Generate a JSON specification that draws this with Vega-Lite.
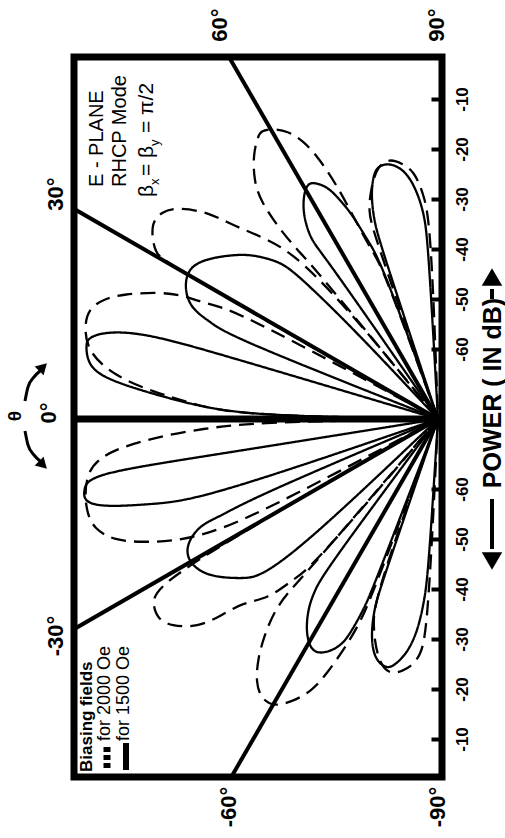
{
  "$schema": "https://vega.github.io/schema/vega-lite/v6.json",
  "width": 368,
  "height": 720,
  "autosize": {"type": "none"},
  "padding": {"left": 74, "top": 57, "right": 63, "bottom": 61},
  "background": "white",
  "config": {"view": {"stroke": "black", "strokeWidth": 7}, "text": {"font": "Liberation Sans", "color": "black"}},
  "resolve": {"axis": {"x": "independent", "y": "independent"}},
  "datasets": {
    "lobes": [
      {"lobe": "U1s", "s": "1500 Oe", "t": [0, 1.0, 2.1, 4.3, 6.8, 9, 12, 13, 14.6, 16.4, 16.6, 17], "d": [-74, -44, -30.4, -20.2, -6.6, -3, -2, -2.2, -4.8, -12.6, -30, -74]},
      {"lobe": "U1d", "s": "2000 Oe", "t": [0, 1.0, 2.1, 3.9, 5.4, 7.6, 10.8, 14.3, 17.4, 19.8, 21.7, 24.4, 25.8, 26.2, 27.2, 28, 28.5, 29], "d": [-74, -44, -30, -23.8, -17, -8.6, -2.8, -1, -0.6, -3, -6.4, -12.6, -17, -20.6, -24.6, -30, -50, -74]},
      {"lobe": "U2s", "s": "1500 Oe", "t": [21, 21.6, 23.1, 24, 27.1, 31, 34.4, 38.4, 41.4, 44.6, 45.8, 47, 47.5], "d": [-74, -28.8, -24.6, -20, -17, -15.6, -17.4, -21.2, -24.2, -29, -32.8, -50, -74]},
      {"lobe": "U2d", "s": "2000 Oe", "t": [29.5, 29.8, 30.2, 30.2, 31.3, 34.2, 36.8, 39.2, 42, 43.4, 46.6, 49.4, 51, 51.5], "d": [-74, -14.8, -11.6, -9.2, -7.4, -4.6, -4.8, -7, -12.2, -17.8, -24.4, -31.8, -50, -74]},
      {"lobe": "U3d", "s": "2000 Oe", "t": [50.5, 50.8, 50.2, 50.2, 50.9, 52.3, 55.1, 57.5, 58.4, 60.1, 62.5, 64.2, 65.4, 66.7, 67.7, 68.8, 70, 71], "d": [-74, -34.8, -30.2, -24, -17.8, -13.8, -9.4, -7, -6.4, -7, -9, -12.4, -16.4, -23.4, -33.4, -38.6, -42.4, -74]},
      {"lobe": "U3s", "s": "1500 Oe", "t": [55, 55.2, 54.7, 55.3, 57, 59.2, 61, 62.4, 64.6, 66, 67.4, 68.5, 70.2, 71], "d": [-74, -35.6, -31.2, -28.2, -24.4, -21.6, -20.2, -20.6, -22.6, -26.2, -30.2, -35.8, -40.4, -74]},
      {"lobe": "U4s", "s": "1500 Oe", "t": [71.5, 71.7, 72.1, 73.4, 75.5, 77.4, 80.2, 83, 84.9, 86.1, 86.8, 88], "d": [-74, -37.8, -32.4, -27, -22.8, -21.8, -22.2, -24.6, -28.8, -33, -38.4, -74]},
      {"lobe": "U4d", "s": "2000 Oe", "t": [70.5, 70.9, 71.4, 73.9, 76.5, 79.5, 82, 84.5, 86.4, 87.9, 89], "d": [-74, -34.8, -30.2, -25.8, -22, -21, -22.4, -24.2, -29, -35.6, -74]},
      {"lobe": "L1s", "s": "1500 Oe", "t": [-9, -9.1, -9, -11.2, -13.2, -14.8, -16.7, -18.9, -20.5], "d": [-74, -26, -3.4, -1.8, -1.2, -5, -14.8, -24.6, -74]},
      {"lobe": "L1d", "s": "2000 Oe", "t": [0, -1.0, -1.7, -5.1, -9.6, -14.8, -17.7, -20.6, -22.7, -24.6, -26.5, -28, -28.5], "d": [-74, -44, -28, -6.4, -2.2, -1.2, -1.8, -4.8, -10.2, -15.2, -22, -34, -74]},
      {"lobe": "L2s", "s": "1500 Oe", "t": [-22.5, -23, -24.1, -24, -27.1, -30.8, -34.8, -39.5, -41.6, -43.5, -44], "d": [-74, -34, -26.4, -21.4, -17, -16.6, -18.6, -23.8, -26.6, -38, -74]},
      {"lobe": "L2d", "s": "2000 Oe", "t": [-29.5, -30, -30.9, -33.3, -35.5, -37.8, -40.9, -42.2, -43.3, -46.6, -48, -49.8, -51], "d": [-74, -24, -7.8, -5.8, -5.2, -6.4, -10.4, -15.4, -20.6, -24.4, -31, -35.6, -74]},
      {"lobe": "L3d", "s": "2000 Oe", "t": [-49.5, -49.5, -49.1, -49.6, -51.3, -53.1, -55.3, -57.7, -60.3, -62.5, -65.1, -66.5, -67.8, -68.9, -69.6, -70.5], "d": [-74, -32.8, -28.2, -23.4, -18.4, -14, -10, -7.8, -7.8, -10.2, -13.8, -18.8, -24.4, -29.6, -35.6, -74]},
      {"lobe": "L3s", "s": "1500 Oe", "t": [-53, -53.3, -54.4, -55.6, -58.2, -61.4, -64.1, -66.9, -67.8, -68.7, -69, -70], "d": [-74, -35.8, -31.4, -28, -23.8, -21, -21.8, -24.6, -28, -33.2, -38.2, -74]},
      {"lobe": "L4s", "s": "1500 Oe", "t": [-71, -71.1, -71.4, -72.8, -75.1, -78.2, -79.9, -82.7, -84.6, -85.6, -86.4, -88], "d": [-74, -38.8, -34, -28.6, -24.4, -23, -23.8, -27, -31.8, -37.2, -42.6, -74]},
      {"lobe": "L4d", "s": "2000 Oe", "t": [-70, -70.4, -72.6, -75.5, -79, -83.2, -85.9, -87.2, -89], "d": [-74, -36, -30.6, -25, -21.6, -23.6, -26.4, -32.6, -74]}
    ]
  },
  "layer": [
    {
      "data": {"name": "lobes"},
      "transform": [
        {"flatten": ["t", "d"]},
        {"window": [{"op": "row_number", "as": "i"}]},
        {"calculate": "max(0, datum.d + 74)", "as": "r"},
        {"calculate": "datum.r*cos(datum.t*PI/180)", "as": "u"},
        {"calculate": "datum.r*sin(datum.t*PI/180)", "as": "v"}
      ],
      "mark": {"type": "line", "interpolate": "basis", "strokeWidth": 2.3, "color": "black"},
      "encoding": {
        "x": {"field": "u", "type": "quantitative", "scale": {"domain": [-0.8, 72.8], "reverse": true, "nice": false, "zero": false}, "axis": null},
        "y": {"field": "v", "type": "quantitative", "scale": {"domain": [-71.6, 72.4], "nice": false, "zero": false},
          "axis": {"orient": "right", "values": [-64, -54, -44, -34, -24, -14, 14, 24, 34, 44, 54, 64], "labelExpr": "(abs(datum.value) - 74) + ''", "domain": false, "grid": false, "title": null, "ticks": true, "tickSize": -11, "tickWidth": 4, "tickColor": "black", "labelAngle": 270, "labelAlign": "center", "labelBaseline": "middle", "labelPadding": 31, "labelFont": "Liberation Sans", "labelFontSize": 17, "labelFontWeight": "bold", "labelColor": "black", "zindex": 1}},
        "detail": {"field": "lobe"},
        "order": {"field": "i"},
        "strokeDash": {"field": "s", "type": "nominal", "scale": {"domain": ["2000 Oe", "1500 Oe"], "range": [[15, 8], [1, 0]]}, "legend": null}
      }
    },
    {
      "data": {"values": [{"deg": 30}, {"deg": 60}, {"deg": -30}, {"deg": -60}]},
      "transform": [
        {"calculate": "0", "as": "o"},
        {"calculate": "110*cos(datum.deg*PI/180)", "as": "ex"},
        {"calculate": "110*sin(datum.deg*PI/180)", "as": "ey"}
      ],
      "mark": {"type": "rule", "clip": true, "strokeWidth": 4, "color": "black"},
      "encoding": {
        "x": {"field": "o", "type": "quantitative", "axis": null},
        "y": {"field": "o", "type": "quantitative", "axis": null},
        "x2": {"field": "ex"},
        "y2": {"field": "ey"}
      }
    },
    {
      "data": {"values": [{"deg": 0}]},
      "transform": [
        {"calculate": "0", "as": "o"},
        {"calculate": "110", "as": "ex"}
      ],
      "mark": {"type": "rule", "clip": true, "strokeWidth": 7, "color": "black"},
      "encoding": {
        "x": {"field": "o", "type": "quantitative", "axis": null},
        "y": {"field": "o", "type": "quantitative", "axis": null},
        "x2": {"field": "ex"}
      }
    },
    {
      "data": {"values": [{"g": "a", "u": 82.6, "v": 3.6}, {"g": "a", "u": 82.0, "v": 6.4}, {"g": "a", "u": 80.8, "v": 8.4}, {"g": "a", "u": 79.6, "v": 9.6}, {"g": "b", "u": 82.6, "v": -2.4}, {"g": "b", "u": 82.0, "v": -5.2}, {"g": "b", "u": 80.8, "v": -7.2}, {"g": "b", "u": 79.6, "v": -8.4}]},
      "mark": {"type": "line", "interpolate": "monotone", "strokeWidth": 3, "color": "black"},
      "encoding": {
        "x": {"field": "u", "type": "quantitative", "axis": null},
        "y": {"field": "v", "type": "quantitative", "axis": null},
        "detail": {"field": "g"},
        "order": {"field": "v"}
      }
    },
    {
      "data": {"values": [{}]},
      "mark": {"type": "point", "shape": "triangle-up", "filled": true, "size": 160, "angle": 45, "color": "black", "opacity": 1},
      "encoding": {"x": {"datum": 79.0, "type": "quantitative", "axis": null}, "y": {"datum": 10.4, "type": "quantitative", "axis": null}}
    },
    {
      "data": {"values": [{}]},
      "mark": {"type": "point", "shape": "triangle-down", "filled": true, "size": 160, "angle": -45, "color": "black", "opacity": 1},
      "encoding": {"x": {"datum": 79.0, "type": "quantitative", "axis": null}, "y": {"datum": -9.2, "type": "quantitative", "axis": null}}
    },
    {
      "data": {"values": [{}]},
      "mark": {"type": "point", "shape": "triangle-up", "filled": true, "size": 420, "color": "black", "opacity": 1},
      "encoding": {"x": {"datum": -10.8, "type": "quantitative", "axis": null}, "y": {"datum": 28.4, "type": "quantitative", "axis": null}}
    },
    {
      "data": {"values": [{}]},
      "mark": {"type": "point", "shape": "triangle-down", "filled": true, "size": 420, "color": "black", "opacity": 1},
      "encoding": {"x": {"datum": -10.8, "type": "quantitative", "axis": null}, "y": {"datum": -28.4, "type": "quantitative", "axis": null}}
    },
    {
      "data": {"values": [{}]},
      "mark": {"type": "rule", "strokeWidth": 4, "color": "black"},
      "encoding": {"x": {"datum": -10.8, "type": "quantitative", "axis": null}, "y": {"datum": 26, "type": "quantitative", "axis": null}, "y2": {"datum": 24}}
    },
    {
      "data": {"values": [{}]},
      "mark": {"type": "rule", "strokeWidth": 4, "color": "black"},
      "encoding": {"x": {"datum": -10.8, "type": "quantitative", "axis": null}, "y": {"datum": -16, "type": "quantitative", "axis": null}, "y2": {"datum": -26}}
    },
    {
      "data": {"values": [{}]},
      "mark": {"type": "text", "text": "POWER ( IN dB)", "angle": 270, "fontSize": 25, "fontWeight": "bold", "align": "center", "baseline": "middle"},
      "encoding": {"x": {"datum": -11, "type": "quantitative", "axis": null}, "y": {"datum": 5.2, "type": "quantitative", "axis": null}}
    },
    {
      "data": {"values": [{}]},
      "mark": {"type": "text", "text": "30°", "angle": 270, "fontSize": 22, "fontWeight": "bold", "align": "center", "baseline": "middle"},
      "encoding": {"x": {"datum": 76.4, "type": "quantitative", "axis": null}, "y": {"datum": 45, "type": "quantitative", "axis": null}}
    },
    {
      "data": {"values": [{}]},
      "mark": {"type": "text", "text": "60°", "angle": 270, "fontSize": 22, "fontWeight": "bold", "align": "center", "baseline": "middle"},
      "encoding": {"x": {"datum": 43.6, "type": "quantitative", "axis": null}, "y": {"datum": 78.8, "type": "quantitative", "axis": null}}
    },
    {
      "data": {"values": [{}]},
      "mark": {"type": "text", "text": "90°", "angle": 270, "fontSize": 22, "fontWeight": "bold", "align": "center", "baseline": "middle"},
      "encoding": {"x": {"datum": 0.2, "type": "quantitative", "axis": null}, "y": {"datum": 78.8, "type": "quantitative", "axis": null}}
    },
    {
      "data": {"values": [{}]},
      "mark": {"type": "text", "text": "-30°", "angle": 270, "fontSize": 22, "fontWeight": "bold", "align": "center", "baseline": "middle"},
      "encoding": {"x": {"datum": 76.4, "type": "quantitative", "axis": null}, "y": {"datum": -43.4, "type": "quantitative", "axis": null}}
    },
    {
      "data": {"values": [{}]},
      "mark": {"type": "text", "text": "-60°", "angle": 270, "fontSize": 22, "fontWeight": "bold", "align": "center", "baseline": "middle"},
      "encoding": {"x": {"datum": 41.8, "type": "quantitative", "axis": null}, "y": {"datum": -77.6, "type": "quantitative", "axis": null}}
    },
    {
      "data": {"values": [{}]},
      "mark": {"type": "text", "text": "-90°", "angle": 270, "fontSize": 22, "fontWeight": "bold", "align": "center", "baseline": "middle"},
      "encoding": {"x": {"datum": 0, "type": "quantitative", "axis": null}, "y": {"datum": -77.6, "type": "quantitative", "axis": null}}
    },
    {
      "data": {"values": [{}]},
      "mark": {"type": "text", "text": "0°", "angle": 270, "fontSize": 22, "fontWeight": "bold", "align": "center", "baseline": "middle"},
      "encoding": {"x": {"datum": 77.8, "type": "quantitative", "axis": null}, "y": {"datum": 1.2, "type": "quantitative", "axis": null}}
    },
    {
      "data": {"values": [{}]},
      "mark": {"type": "text", "text": "θ", "angle": 270, "fontSize": 19, "fontWeight": "bold", "align": "center", "baseline": "middle"},
      "encoding": {"x": {"datum": 84.6, "type": "quantitative", "axis": null}, "y": {"datum": 0.6, "type": "quantitative", "axis": null}}
    },
    {
      "data": {"values": [{}]},
      "mark": {"type": "text", "text": "E - PLANE", "angle": 270, "fontSize": 20, "align": "left", "baseline": "middle"},
      "encoding": {"x": {"datum": 68.2, "type": "quantitative", "axis": null}, "y": {"datum": 46.4, "type": "quantitative", "axis": null}}
    },
    {
      "data": {"values": [{}]},
      "mark": {"type": "text", "text": "RHCP Mode", "angle": 270, "fontSize": 20, "align": "left", "baseline": "middle"},
      "encoding": {"x": {"datum": 63.6, "type": "quantitative", "axis": null}, "y": {"datum": 46.4, "type": "quantitative", "axis": null}}
    },
    {
      "data": {"values": [{}]},
      "mark": {"type": "text", "text": "β", "angle": 270, "fontSize": 21, "align": "left", "baseline": "middle"},
      "encoding": {"x": {"datum": 58.2, "type": "quantitative", "axis": null}, "y": {"datum": 44.4, "type": "quantitative", "axis": null}}
    },
    {
      "data": {"values": [{}]},
      "mark": {"type": "text", "text": "x", "angle": 270, "fontSize": 13, "align": "left", "baseline": "middle"},
      "encoding": {"x": {"datum": 56.6, "type": "quantitative", "axis": null}, "y": {"datum": 46.8, "type": "quantitative", "axis": null}}
    },
    {
      "data": {"values": [{}]},
      "mark": {"type": "text", "text": "= β", "angle": 270, "fontSize": 21, "align": "left", "baseline": "middle"},
      "encoding": {"x": {"datum": 58.2, "type": "quantitative", "axis": null}, "y": {"datum": 48.6, "type": "quantitative", "axis": null}}
    },
    {
      "data": {"values": [{}]},
      "mark": {"type": "text", "text": "y", "angle": 270, "fontSize": 13, "align": "left", "baseline": "middle"},
      "encoding": {"x": {"datum": 56.6, "type": "quantitative", "axis": null}, "y": {"datum": 54.6, "type": "quantitative", "axis": null}}
    },
    {
      "data": {"values": [{}]},
      "mark": {"type": "text", "text": "= π/2", "angle": 270, "fontSize": 21, "align": "left", "baseline": "middle"},
      "encoding": {"x": {"datum": 58.2, "type": "quantitative", "axis": null}, "y": {"datum": 57.2, "type": "quantitative", "axis": null}}
    },
    {
      "data": {"values": [{}]},
      "mark": {"type": "text", "text": "Biasing fields", "angle": 270, "fontSize": 17, "fontWeight": "bold", "align": "left", "baseline": "middle"},
      "encoding": {"x": {"datum": 70.2, "type": "quantitative", "axis": null}, "y": {"datum": -70.6, "type": "quantitative", "axis": null}}
    },
    {
      "data": {"values": [{}]},
      "mark": {"type": "text", "text": "for 2000 Oe", "angle": 270, "fontSize": 18, "align": "left", "baseline": "middle"},
      "encoding": {"x": {"datum": 66.6, "type": "quantitative", "axis": null}, "y": {"datum": -64.4, "type": "quantitative", "axis": null}}
    },
    {
      "data": {"values": [{}]},
      "mark": {"type": "text", "text": "for 1500 Oe", "angle": 270, "fontSize": 18, "align": "left", "baseline": "middle"},
      "encoding": {"x": {"datum": 62.8, "type": "quantitative", "axis": null}, "y": {"datum": -64.4, "type": "quantitative", "axis": null}}
    },
    {
      "data": {"values": [{}]},
      "mark": {"type": "rule", "strokeWidth": 7, "strokeDash": [5, 3], "color": "black"},
      "encoding": {"x": {"datum": 66.2, "type": "quantitative", "axis": null}, "y": {"datum": -65.6, "type": "quantitative", "axis": null}, "y2": {"datum": -70.4}}
    },
    {
      "data": {"values": [{}]},
      "mark": {"type": "rule", "strokeWidth": 6, "color": "black"},
      "encoding": {"x": {"datum": 62.4, "type": "quantitative", "axis": null}, "y": {"datum": -64.8, "type": "quantitative", "axis": null}, "y2": {"datum": -70.2}}
    }
  ]
}
